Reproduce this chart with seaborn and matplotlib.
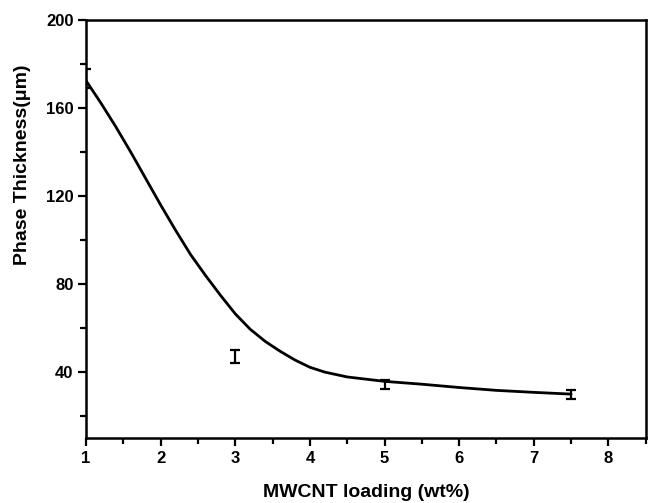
import matplotlib
matplotlib.use("Agg")
import matplotlib.pyplot as plt
import seaborn as sns
import pandas as pd
from matplotlib.ticker import MultipleLocator

# measured points with error bars
loading = [1, 3, 5, 7.5]
thickness = [173.5, 47.0, 34.3, 29.8]
thickness_err = [4.5, 3.0, 2.0, 2.0]

# fitted curve
curve_x = [1.0, 1.2, 1.4, 1.6, 1.8, 2.0, 2.2, 2.4, 2.6, 2.8, 3.0, 3.2, 3.4, 3.6,
           3.8, 4.0, 4.2, 4.5, 5.0, 5.5, 6.0, 6.5, 7.0, 7.5]
curve_y = [172.5, 162.3, 151.5, 140.0, 128.0, 116.0, 104.5, 93.5, 84.0, 75.0, 66.5,
           59.5, 54.0, 49.5, 45.5, 42.2, 40.0, 37.8, 35.8, 34.5, 33.0, 31.7, 30.8, 30.0]

x_ticks = [1, 2, 3, 4, 5, 6, 7, 8]
y_ticks = [40, 80, 120, 160, 200]

sns.set_theme(style="ticks")
plt.rcParams['font.family'] = ['Liberation Sans', 'DejaVu Sans']

fig = plt.figure(figsize=(6.49, 5.03), dpi=100)
ax = fig.add_axes([0.1325, 0.129, 0.995 - 0.1325, 0.960 - 0.129])

curve = pd.DataFrame({"x": curve_x, "y": curve_y})
sns.lineplot(data=curve, x="x", y="y", ax=ax, color="black", linewidth=2.0, sort=True)

ax.errorbar(loading, thickness, yerr=thickness_err, fmt="none", ecolor="black",
            elinewidth=1.6, capsize=3.5, capthick=1.6, clip_on=True, zorder=3)

ax.set_xlim(1, 8.5)
ax.set_ylim(10, 200)
ax.set_xticks(x_ticks)
ax.set_yticks(y_ticks)
ax.xaxis.set_minor_locator(MultipleLocator(0.5))
ax.yaxis.set_minor_locator(MultipleLocator(20))

for s in ax.spines.values():
    s.set_linewidth(1.8)
    s.set_color("black")

ax.tick_params(axis="both", which="major", direction="out", length=6, width=1.6,
               labelsize=12, colors="black", top=False, right=False, pad=3)
ax.tick_params(axis="both", which="minor", direction="out", length=4, width=1.6,
               colors="black", top=False, right=False)
for lab in ax.get_xticklabels() + ax.get_yticklabels():
    lab.set_fontweight("bold")

ax.set_xlabel("MWCNT loading (wt%)", fontsize=14, fontweight="bold", labelpad=13,
              color="black")
ax.set_ylabel("Phase Thickness(μm)", fontsize=14, fontweight="bold", color="black")
ax.yaxis.set_label_coords(-0.098, 0.655)

fig.savefig("out.png", dpi=100, facecolor="white")
